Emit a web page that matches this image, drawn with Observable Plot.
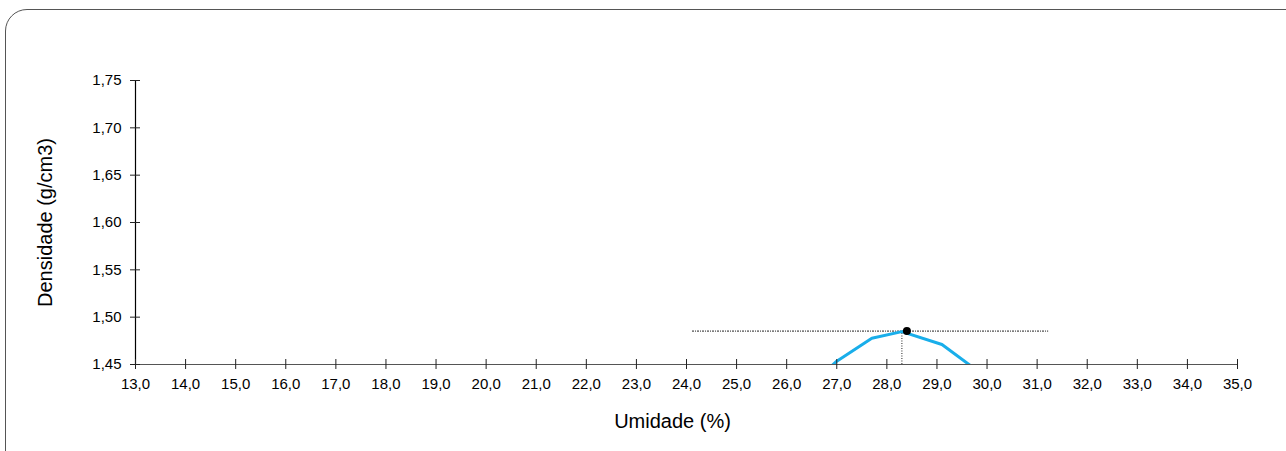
<!DOCTYPE html>
<html><head><meta charset="utf-8">
<script src="https://cdn.jsdelivr.net/npm/d3@7"></script>
<script src="https://cdn.jsdelivr.net/npm/@observablehq/plot@0.6"></script>
<style>
body{margin:0;background:#fff;font-family:"Liberation Sans",Arial,Helvetica,sans-serif;}
#wrap{position:relative;width:1286px;height:451px;overflow:hidden;}
#box{position:absolute;left:5px;top:9px;width:1310px;height:470px;border:1.3px solid #555;border-radius:22px;box-sizing:border-box;}
#chart{position:absolute;left:0;top:0;}
</style></head><body><div id="wrap"><div id="box"></div><div id="chart"></div></div>
<script>
// Data
const umidade = [26.2, 27.0, 27.7, 28.3, 29.1, 30.1];
const densidade = [1.415, 1.4535, 1.4778, 1.4847, 1.4711, 1.432];
const otimoUmidade = [28.4];
const otimoDensidade = [1.4853];
const refVerticalX = [28.3];
const refHorizontalX = [24.12, 31.23];
const xTicks = [13,14,15,16,17,18,19,20,21,22,23,24,25,26,27,28,29,30,31,32,33,34,35];
const yTicks = [1.45,1.50,1.55,1.60,1.65,1.70,1.75];
const xDomain = [13, 35];
const yDomain = [1.45, 1.75];
const xTitle = "Umidade (%)";
const yTitle = "Densidade (g/cm3)";

const curve = umidade.map((u, i) => ({x: u, y: densidade[i]}));
const optimum = otimoUmidade.map((u, i) => ({x: u, y: otimoDensidade[i]}));
const fmtX = d => d.toFixed(1).replace(".", ",");
const fmtY = d => d.toFixed(2).replace(".", ",");
const dash = "2,1,1,1";

const chart = Plot.plot({
  width: 1286, height: 451,
  marginLeft: 135, marginRight: 49, marginTop: 80, marginBottom: 87,
  style: {fontFamily: '"Liberation Sans", Arial, sans-serif', fontSize: "15px", color: "#000", background: "transparent", overflow: "visible"},
  x: {domain: xDomain, label: null},
  y: {domain: yDomain, label: null},
  marks: [
    Plot.ruleY(refHorizontalX.slice(0,1), {y: () => otimoDensidade[0], x1: () => refHorizontalX[0], x2: () => refHorizontalX[1], stroke: "#222", strokeWidth: 1, strokeDasharray: dash}),
    Plot.ruleX(refVerticalX, {x: d => d, y1: () => yDomain[0], y2: () => otimoDensidade[0], stroke: "#222", strokeWidth: 1, strokeDasharray: "1,1.5"}),
    Plot.line(curve, {x: "x", y: "y", stroke: "#19aeea", strokeWidth: 3, clip: true}),
    Plot.ruleY([yDomain[0]], {stroke: "#555", strokeWidth: 1.2}),
    Plot.ruleX([xDomain[0]], {stroke: "#000", strokeWidth: 1.2}),
    Plot.axisX(xTicks, {tickSize: 10, dy: -5, text: null, stroke: "#222", label: null}),
    Plot.axisX(xTicks, {tickSize: 0, tickPadding: 14, tickFormat: fmtX, label: null, fontSize: 15}),
    Plot.axisY(yTicks, {tickSize: 10, dx: 5, text: null, stroke: "#222", label: null}),
    Plot.axisY(yTicks, {tickSize: 0, tickPadding: 14, tickFormat: fmtY, label: null, fontSize: 15}),
    Plot.dot(optimum, {x: "x", y: "y", r: 4, fill: "#000"}),
    Plot.text([xTitle], {text: d => d, frameAnchor: "bottom", dx: -14, dy: 57, lineAnchor: "middle", textAnchor: "middle", fontSize: 20}),
    Plot.text([yTitle], {text: d => d, frameAnchor: "left", dx: -90, rotate: -90, lineAnchor: "middle", textAnchor: "middle", fontSize: 20})
  ]
});
document.getElementById("chart").appendChild(chart);
</script>
</body></html>
